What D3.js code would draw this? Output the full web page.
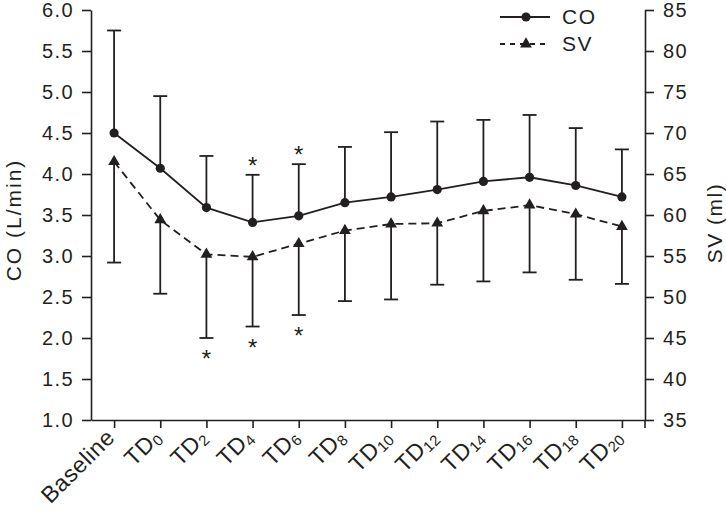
<!DOCTYPE html>
<meta charset="utf-8">
<style>
body { margin: 0; background: #fff; }
text { fill: #231f20; }
.axis path, .axis line { stroke: #231f20; stroke-width: 1.6; }
</style>
<svg width="726" height="512"></svg>
<script src="https://d3js.org/d3.v7.min.js"></script>
<script>

// values
var categories = ["Baseline", "TD0", "TD2", "TD4", "TD6", "TD8", "TD10", "TD12", "TD14", "TD16", "TD18", "TD20"];
var coMean  = [4.50, 4.07, 3.59, 3.41, 3.49, 3.65, 3.72, 3.81, 3.91, 3.96, 3.86, 3.72];
var coUpper = [5.75, 4.95, 4.22, 3.99, 4.12, 4.33, 4.51, 4.64, 4.66, 4.72, 4.56, 4.30];
var svMean  = [66.5, 59.4, 55.2, 54.9, 56.5, 58.1, 58.9, 59.0, 60.5, 61.2, 60.1, 58.6];
var svLower = [54.2, 50.4, 45.0, 46.4, 47.8, 49.5, 49.7, 51.5, 51.9, 53.0, 52.1, 51.6];
var coStars = ["TD4", "TD6"];
var svStars = ["TD2", "TD4", "TD6"];
var coTicks = [1.0, 1.5, 2.0, 2.5, 3.0, 3.5, 4.0, 4.5, 5.0, 5.5, 6.0];
var svTicks = [35, 40, 45, 50, 55, 60, 65, 70, 75, 80, 85];

var font = "'Liberation Sans', Arial, Helvetica, sans-serif";
var ink = "#231f20";

var svg = d3.select("svg"),
    margin = {top: 10, right: 81, bottom: 92, left: 91},
    width = +svg.attr("width") - margin.left - margin.right,
    height = +svg.attr("height") - margin.top - margin.bottom,
    g = svg.append("g").attr("transform", "translate(" + margin.left + "," + margin.top + ")");

var x = d3.scalePoint()
    .domain(categories)
    .range([0, width])
    .padding(0.5);

var yCO = d3.scaleLinear().domain([1, 6]).range([height, 0]);
var ySV = d3.scaleLinear().domain([35, 85]).range([height, 0]);

var co = categories.map(function(c, i) { return {key: c, mean: coMean[i], end: coUpper[i]}; });
var sv = categories.map(function(c, i) { return {key: c, mean: svMean[i], end: svLower[i]}; });

// axes
var left = g.append("g")
    .attr("class", "axis")
    .call(d3.axisLeft(yCO).tickValues(coTicks).tickFormat(d3.format(".1f"))
      .tickSize(9).tickPadding(8).tickSizeOuter(0));

var right = g.append("g")
    .attr("class", "axis")
    .attr("transform", "translate(" + width + ",0)")
    .call(d3.axisRight(ySV).tickValues(svTicks).tickSize(9).tickPadding(9).tickSizeOuter(0));

right.append("line")
    .attr("y1", height).attr("y2", height + 8)
    .attr("stroke", ink).attr("stroke-width", 1.6);

var bottom = g.append("g")
    .attr("class", "axis")
    .attr("transform", "translate(0," + height + ")")
    .call(d3.axisBottom(x).tickSize(8).tickSizeOuter(0));

[left, right].forEach(function(a) {
  a.selectAll(".tick text")
      .attr("font-family", font)
      .attr("font-size", 20)
      .attr("letter-spacing", 1.4)
      .attr("fill", ink);
});

// x labels: rotated, "TDn" with a subscript day number
bottom.selectAll(".tick text").remove();
bottom.selectAll(".tick").each(function(d) {
  var t = d3.select(this).append("g")
      .attr("transform", "translate(-4,13) rotate(-45)")
    .append("text")
      .attr("font-family", font)
      .attr("font-size", 23)
      .attr("letter-spacing", 0.6)
      .attr("fill", ink)
      .attr("text-anchor", "end")
      .attr("dy", "0.35em");
  var m = /^TD(\d+)$/.exec(d);
  if (m) {
    t.append("tspan").text("TD");
    t.append("tspan").attr("font-size", 15).attr("dy", "0.2em").attr("letter-spacing", 0.3).text(m[1]);
  } else {
    t.text(d);
  }
});

g.append("text")
    .attr("font-family", font)
    .attr("font-size", 21)
    .attr("letter-spacing", 2)
    .attr("text-anchor", "middle")
    .attr("transform", "translate(" + (14 - margin.left) + "," + (height / 2 + 5) + ") rotate(-90)")
    .attr("dy", "0.35em")
    .text("CO (L/min)");

g.append("text")
    .attr("font-family", font)
    .attr("font-size", 21)
    .attr("letter-spacing", 1.5)
    .attr("text-anchor", "middle")
    .attr("transform", "translate(" + (width + 70) + "," + (height / 2 + 8) + ") rotate(-90)")
    .attr("dy", "0.35em")
    .text("SV (ml)");

// error bars
function errorBars(data, y) {
  var eb = g.append("g").attr("stroke", ink).attr("stroke-width", 1.8)
    .selectAll("g").data(data).enter().append("g");
  eb.append("line")
      .attr("x1", function(d) { return x(d.key); })
      .attr("x2", function(d) { return x(d.key); })
      .attr("y1", function(d) { return y(d.mean); })
      .attr("y2", function(d) { return y(d.end); });
  eb.append("line")
      .attr("x1", function(d) { return x(d.key) - 7; })
      .attr("x2", function(d) { return x(d.key) + 7; })
      .attr("y1", function(d) { return y(d.end); })
      .attr("y2", function(d) { return y(d.end); });
}
errorBars(co, yCO);
errorBars(sv, ySV);

// lines
g.append("path")
    .datum(co)
    .attr("fill", "none")
    .attr("stroke", ink)
    .attr("stroke-width", 1.8)
    .attr("d", d3.line().x(function(d) { return x(d.key); }).y(function(d) { return yCO(d.mean); }));

g.append("path")
    .datum(sv)
    .attr("fill", "none")
    .attr("stroke", ink)
    .attr("stroke-width", 1.8)
    .attr("stroke-dasharray", "8,5")
    .attr("d", d3.line().x(function(d) { return x(d.key); }).y(function(d) { return ySV(d.mean); }));

var tri = d3.symbol().type(d3.symbolTriangle).size(60);

g.append("g").selectAll("circle")
    .data(co).enter().append("circle")
    .attr("cx", function(d) { return x(d.key); })
    .attr("cy", function(d) { return yCO(d.mean); })
    .attr("r", 4.6)
    .attr("fill", ink);

g.append("g").selectAll("path")
    .data(sv).enter().append("path")
    .attr("transform", function(d) { return "translate(" + x(d.key) + "," + ySV(d.mean) + ")"; })
    .attr("d", tri)
    .attr("fill", ink);

// significance marks
g.append("g").selectAll("text")
    .data(co.filter(function(d) { return coStars.indexOf(d.key) >= 0; }))
    .enter().append("text")
    .attr("font-family", font)
    .attr("font-size", 24)
    .attr("text-anchor", "middle")
    .attr("x", function(d) { return x(d.key); })
    .attr("y", function(d) { return yCO(d.end) - 1; })
    .text("*");

g.append("g").selectAll("text")
    .data(sv.filter(function(d) { return svStars.indexOf(d.key) >= 0; }))
    .enter().append("text")
    .attr("font-family", font)
    .attr("font-size", 24)
    .attr("text-anchor", "middle")
    .attr("x", function(d) { return x(d.key); })
    .attr("y", function(d) { return ySV(d.end) + 29; })
    .text("*");

// legend
var legend = svg.append("g").attr("transform", "translate(500,0)");
var items = [{name: "CO", dash: null, y: 17}, {name: "SV", dash: "5,5", y: 44}];
var li = legend.selectAll("g").data(items).enter().append("g")
    .attr("transform", function(d) { return "translate(0," + d.y + ")"; });
li.append("line")
    .attr("x1", 0).attr("x2", 50)
    .attr("stroke", ink).attr("stroke-width", 1.8)
    .attr("stroke-dasharray", function(d) { return d.dash; });
li.filter(function(d) { return d.name === "CO"; }).append("circle")
    .attr("cx", 26).attr("r", 4.6).attr("fill", ink);
li.filter(function(d) { return d.name === "SV"; }).append("path")
    .attr("transform", "translate(26,0)").attr("d", tri).attr("fill", ink);
li.append("text")
    .attr("font-family", font)
    .attr("font-size", 21)
    .attr("letter-spacing", 1.5)
    .attr("x", 62)
    .attr("dy", "0.35em")
    .text(function(d) { return d.name; });

</script>
